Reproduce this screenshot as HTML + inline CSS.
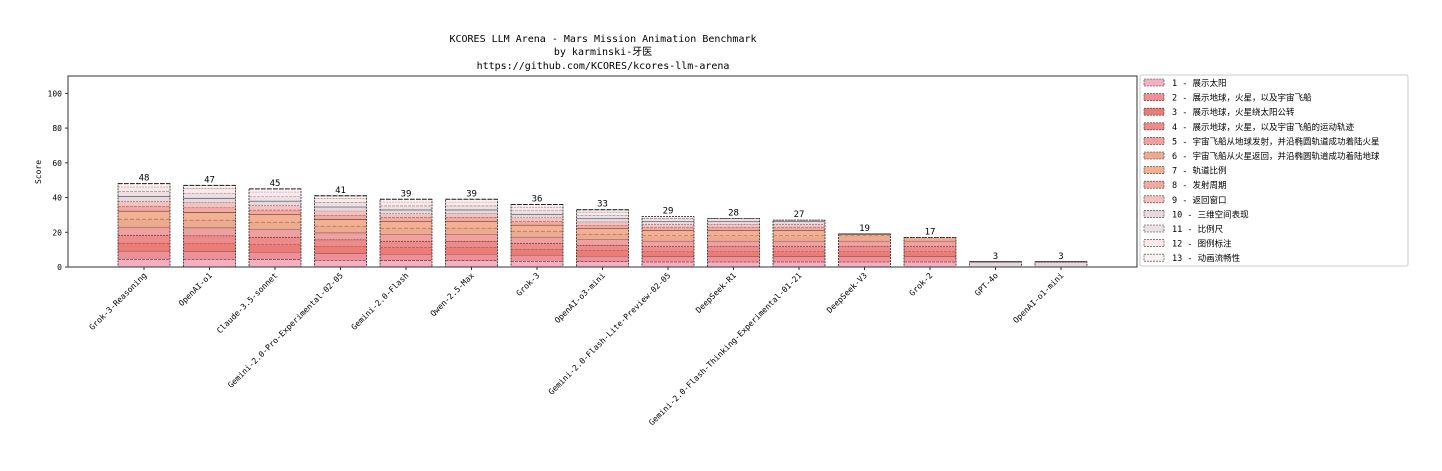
<!DOCTYPE html>
<html><head><meta charset="utf-8"><style>
body{margin:0;background:#fff;}
svg text{font-family:"DejaVu Sans Mono","Liberation Mono","Noto Sans CJK SC",monospace;}
</style></head><body>
<svg id="s" width="1442" height="466" xmlns="http://www.w3.org/2000/svg">
<text x="603" y="42" font-size="10" text-anchor="middle">KCORES LLM Arena - Mars Mission Animation Benchmark</text>
<text x="603" y="55" font-size="10" text-anchor="middle" style="font-family:'DejaVu Sans Mono','Noto Sans CJK SC',monospace">by karminski-牙医</text>
<text x="603" y="69" font-size="10" text-anchor="middle">https://github.com/KCORES/kcores-llm-arena</text>
<text transform="translate(41,172) rotate(-90)" font-size="8" text-anchor="middle">Score</text>
<g id="bars"></g>
<rect x="68" y="76" width="1069" height="191" fill="none" stroke="#333" stroke-width="1"/>
<g id="leg"></g>
</svg>
<script>
var NS="http://www.w3.org/2000/svg";
function el(t,a,p,txt){var e=document.createElementNS(NS,t);for(var k in a)e.setAttribute(k,a[k]);if(txt!=null)e.textContent=txt;p.appendChild(e);return e;}
var s=document.getElementById('s'),B=document.getElementById('bars'),L=document.getElementById('leg');
var y0=267,k=191/110;
for(var v=0;v<=100;v+=20){var y=y0-v*k;el('line',{x1:65,x2:68,y1:y,y2:y,stroke:'#333'},s);el('text',{x:62,y:y+3,'font-size':8,'text-anchor':'end'},s,String(v));}
var cols=['#f4b0c0','#ef8f98','#ec7c76','#ee8a88','#f0a0a0','#eeaa8e','#f4b090','#f5a8a0','#f6c0bc','#e6d8dc','#ece0e4','#fbe8ea','#fdf0f0'];
var maxs=[5,5,5,5,5,5,5,3,3,3,3,3,3];
var names=['Grok-3-Reasoning','OpenAI-o1','Claude-3.5-sonnet','Gemini-2.0-Pro-Experimental-02-05','Gemini-2.0-Flash','Qwen-2.5-Max','Grok-3','OpenAI-o3-mini','Gemini-2.0-Flash-Lite-Preview-02-05','DeepSeek-R1','Gemini-2.0-Flash-Thinking-Experimental-01-21','DeepSeek-V3','Grok-2','GPT-4o','OpenAI-o1-mini'];
var vals=[48,47,45,41,39,39,36,33,29,28,27,19,17,3,3];
var dash=['3,1','','3,1','2,1','','4,2','','3,1','2,1','','3,1','2,1','4,2'];
for(var i=0;i<15;i++){
 var cx=144+i*65.5,x=cx-26,w=52,rem=vals[i],cum=0;
 var scale=vals[i]/52;
 for(var j=0;j<13&&rem>0;j++){
   var m=maxs[j]*Math.max(scale,0.6);var h=Math.min(m,rem);
   if(i>=13){h=j==9?3:0;}
   if(h<=0)continue;
   var yt=y0-(cum+h)*k;
   el('rect',{x:x,y:yt,width:w,height:h*k,fill:cols[j]},B);
   var a={x1:x,x2:x+w,y1:yt,y2:yt,stroke:'#222','stroke-width':(j%3==0)?1:0.6};
   if(dash[j])a['stroke-dasharray']=dash[j];
   el('line',a,B);
   cum+=h;rem-=h;
 }
 el('rect',{x:x,y:y0-vals[i]*k,width:w,height:vals[i]*k,fill:'none',stroke:'#222','stroke-width':0.8,'stroke-dasharray':'2,1'},B);
 el('text',{x:cx,y:y0-vals[i]*k-3,'font-size':9,'text-anchor':'middle'},B,String(vals[i]));
 el('line',{x1:cx,x2:cx,y1:267,y2:270,stroke:'#333'},B);
 el('text',{transform:'translate('+(cx+3)+',276) rotate(-45)','font-size':8,'text-anchor':'end'},B,names[i]);
}
var ln=['1 - 展示太阳','2 - 展示地球，火星，以及宇宙飞船','3 - 展示地球，火星绕太阳公转','4 - 展示地球，火星，以及宇宙飞船的运动轨迹','5 - 宇宙飞船从地球发射，并沿椭圆轨道成功着陆火星','6 - 宇宙飞船从火星返回，并沿椭圆轨道成功着陆地球','7 - 轨道比例','8 - 发射周期','9 - 返回窗口','10 - 三维空间表现','11 - 比例尺','12 - 图例标注','13 - 动画流畅性'];
el('rect',{x:1140,y:75,width:268,height:191,fill:'#fff',stroke:'#ccc','stroke-width':1,rx:2},L);
for(var j=0;j<13;j++){var y=79+j*14.6;
 el('rect',{x:1144,y:y,width:20,height:7,fill:cols[j],stroke:'#333','stroke-width':0.6,'stroke-dasharray':'2,1'},L);
 el('text',{x:1172,y:y+7,'font-size':8.5,style:"font-family:'DejaVu Sans Mono','Noto Sans CJK SC',monospace"},L,ln[j]);}
</script>
</body></html>
